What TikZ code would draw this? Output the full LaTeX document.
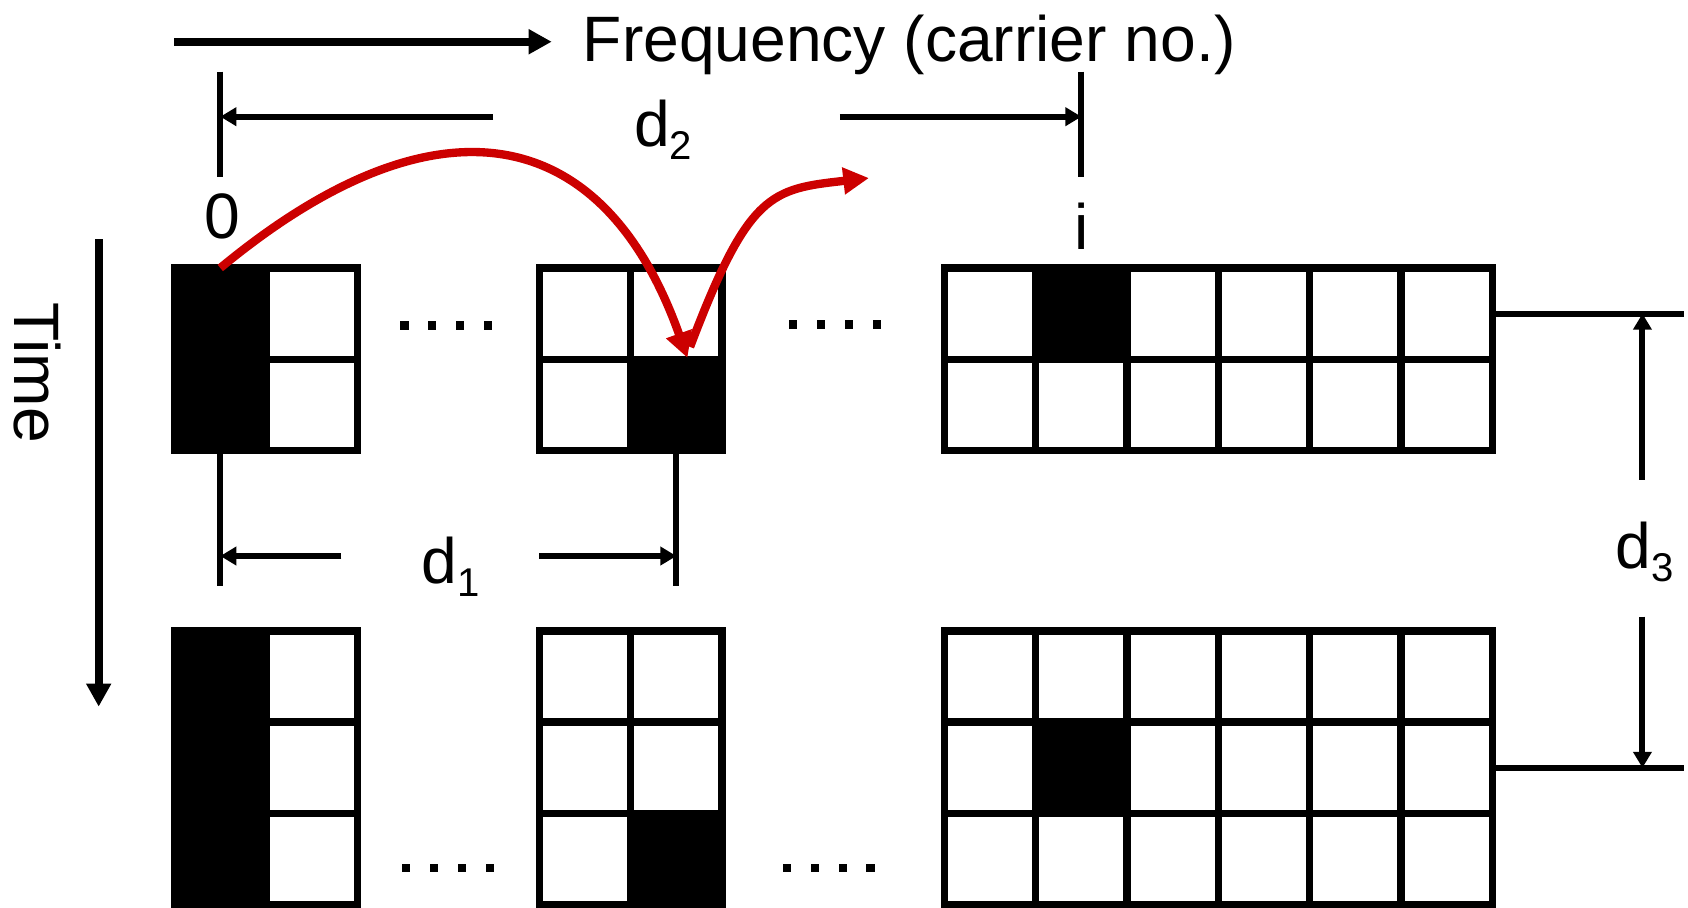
\documentclass[tikz,border=0pt]{standalone}
\usepackage{fontspec}
\setmainfont{Liberation Sans}
\usetikzlibrary{arrows.meta}
\definecolor{hopred}{HTML}{CC0000}
\newcommand{\dlab}[1]{d\raisebox{-4pt}{\fontsize{12.5}{12.5}\selectfont #1}}

\begin{document}
\begin{tikzpicture}[font=\fontsize{20}{24}\selectfont,
  every node/.style={inner sep=0pt},
  cellgrid/.style={line width=2.3pt},
  dimline/.style={line width=1.85pt},
  dimarrow/.style={line width=1.85pt, -{Triangle[length=5pt,width=5.6pt]}},
  axisarrow/.style={line width=2.5pt, -{Triangle[length=7.2pt,width=7.4pt]}},
  hoparrow/.style={hopred, line width=2.6pt, -{Triangle[length=8pt,width=8pt]}}]
 \useasboundingbox (0,0) rectangle (18.489,-9.945);
 % occupied cells
 \fill (1.913,-2.935) rectangle ++(1,-2);
 \fill (6.909,-3.935) rectangle ++(1,-1);
 \fill (11.345,-2.935) rectangle ++(1,-1);
 \fill (1.913,-6.91) rectangle ++(1,-3);
 \fill (6.909,-8.91) rectangle ++(1,-1);
 \fill (11.345,-7.91) rectangle ++(1,-1);
 \foreach \gx/\gy/\nc/\nr in {1.913/-2.935/2/2, 5.909/-2.935/2/2, 10.345/-2.935/6/2,
   1.913/-6.91/2/3, 5.909/-6.91/2/3, 10.345/-6.91/6/3}
  \draw[cellgrid, shift={(\gx,\gy)}] (0,0) grid (\nc,-\nr) (0,0) rectangle (\nc,-\nr);
 \foreach \dx/\dy in {4.43/-3.565, 8.69/-3.555, 4.45/-9.51, 8.62/-9.51}
  \foreach \k in {0,...,3} \fill (\dx+0.305*\k-0.045,\dy-0.045) rectangle ++(0.09,0.09);
 % axes
 \coordinate (fs) at (1.91,-0.457);
 \coordinate (fe) at (6.043,-0.457);
 \draw[axisarrow] (fs) -- (fe);
 \node[anchor=base west] (freq) at (6.377,-0.672) {Frequency (carrier no.)};
 \coordinate (ts) at (1.081,-2.618);
 \coordinate (te) at (1.081,-7.74);
 \draw[axisarrow] (ts) -- (te);
 \node[rotate=-90] (time) at (0.405,-4.085) {Time};
 % d2
 \draw[dimline] (2.413,-0.785) -- (2.413,-1.935);
 \draw[dimline] (11.845,-0.785) -- (11.845,-1.935);
 \coordinate (k0) at (2.413,-1.278);
 \coordinate (ki) at (11.845,-1.278);
 \draw[dimarrow] (5.40,-1.278) -- (k0);
 \draw[dimarrow] (9.20,-1.278) -- (ki);
 \node[anchor=base west] (dtwo) at (6.94,-1.607) {\dlab{2}};
 \node[anchor=base] (lzero) at (2.437,-2.61) {0};
 \node[anchor=base] (li) at (11.845,-2.73) {i};
 % d1
 \draw[dimline] (2.413,-4.935) -- (2.413,-6.42);
 \draw[dimline] (7.409,-4.935) -- (7.409,-6.42);
 \coordinate (ka) at (2.413,-6.09);
 \coordinate (kb) at (7.409,-6.09);
 \draw[dimarrow] (3.738,-6.09) -- (ka);
 \draw[dimarrow] (5.908,-6.09) -- (kb);
 \node[anchor=base west] (done) at (4.61,-6.389) {\dlab{1}};
 % d3
 \draw[dimline] (16.345,-3.435) -- (18.45,-3.435);
 \draw[dimline] (16.345,-8.41) -- (18.45,-8.41);
 \coordinate (kc) at (17.99,-3.435);
 \coordinate (kd) at (17.99,-8.41);
 \draw[dimarrow] (17.99,-5.257) -- (kc);
 \draw[dimarrow] (17.99,-6.754) -- (kd);
 \node[anchor=base west] (dthree) at (17.69,-6.225) {\dlab{3}};
 % hops
 \coordinate (h0) at (2.413,-2.935);
 \coordinate (h1) at (7.53,-3.92);
 \coordinate (h2) at (7.558,-3.80);
 \coordinate (h3) at (9.518,-1.95);
 \draw[hoparrow] (h0) .. controls (4.75,-1.0) and (6.6,-1.3) .. (h1);
 \draw[hoparrow] (h2) .. controls (8.2,-2.1) and (8.45,-2.07) .. (h3);
\end{tikzpicture}
\end{document}
